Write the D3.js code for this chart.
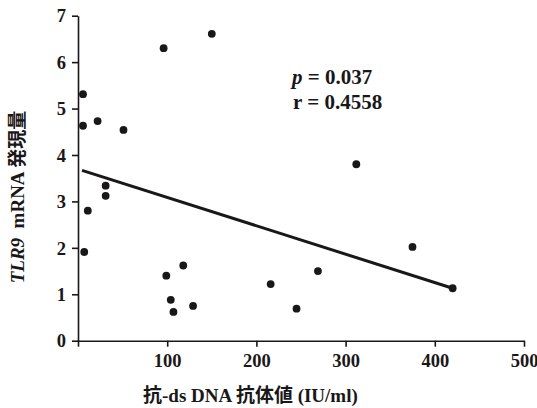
<!DOCTYPE html>
<html>
<head>
<meta charset="utf-8">
<script src="https://cdn.jsdelivr.net/npm/d3@7"></script>
<style>
  html, body { margin: 0; padding: 0; background: #fff; }
  svg { display: block; }
  text { font-family: "Liberation Serif", "Times New Roman", "Noto Sans CJK JP", serif; font-weight: bold; fill: #1a1718; }
</style>
</head>
<body>
<svg id="chart" width="537" height="408"></svg>
<script>
// anti-dsDNA antibody titre (IU/ml) and TLR9 mRNA expression per patient
const antiDsDNA = [5.6, 5.6, 22, 51, 96, 150, 31, 31, 11, 7, 99, 118, 104, 107, 129, 216, 245, 269, 312, 375, 420];
const tlr9Expr  = [5.31, 4.63, 4.73, 4.54, 6.30, 6.61, 3.34, 3.12, 2.80, 1.91, 1.40, 1.62, 0.88, 0.62, 0.75, 1.22, 0.69, 1.50, 3.80, 2.02, 1.13];

// fitted regression line endpoints
const fitX = [4.5, 420];
const fitY = [3.67, 1.13];

const xTicks = [0, 100, 200, 300, 400, 500];
const xTickLabels = ["", "100", "200", "300", "400", "500"];
const yTicks = [0, 1, 2, 3, 4, 5, 6, 7];

const W = 537, H = 408;
const margin = { left: 78, right: 13, top: 15.7, bottom: 67.3 };
const ink = "#1a1718";

const svg = d3.select("#chart");
const x = d3.scaleLinear().domain([0, 500]).range([margin.left, W - margin.right]);
const y = d3.scaleLinear().domain([0, 7]).range([H - margin.bottom, margin.top]);

// x axis
const xAxis = svg.append("g")
  .attr("transform", `translate(0,${y(0)})`)
  .call(d3.axisBottom(x).tickValues(xTicks).tickFormat((d, i) => xTickLabels[i]).tickSize(6).tickSizeOuter(0));
xAxis.select(".domain").attr("stroke", ink).attr("stroke-width", 1.6);
xAxis.selectAll(".tick line").attr("stroke", ink).attr("stroke-width", 1.6);
xAxis.selectAll(".tick text").attr("dy", "0").attr("y", 26)
  .style("font-size", "18.5px").style("font-family", "'Liberation Serif'").style("font-weight", "bold").style("fill", ink);

// y axis
const yAxis = svg.append("g")
  .attr("transform", `translate(${x(0)},0)`)
  .call(d3.axisLeft(y).tickValues(yTicks).tickFormat(d3.format("d")).tickSize(6).tickSizeOuter(0));
yAxis.select(".domain").attr("stroke", ink).attr("stroke-width", 1.6);
yAxis.selectAll(".tick line").attr("stroke", ink).attr("stroke-width", 1.6);
yAxis.selectAll(".tick text").attr("x", -12).attr("dy", "0.34em")
  .style("font-size", "18.5px").style("font-family", "'Liberation Serif'").style("font-weight", "bold").style("fill", ink);

// regression line
svg.append("line")
  .attr("x1", x(fitX[0])).attr("y1", y(fitY[0]))
  .attr("x2", x(fitX[1])).attr("y2", y(fitY[1]))
  .attr("stroke", ink).attr("stroke-width", 3);

// data points
svg.append("g").selectAll("circle")
  .data(antiDsDNA.map((v, i) => [v, tlr9Expr[i]]))
  .join("circle")
  .attr("cx", d => x(d[0]))
  .attr("cy", d => y(d[1]))
  .attr("r", 3.9)
  .attr("fill", ink);

// statistics annotation
const stats = svg.append("g").attr("font-size", 21);
const pLine = stats.append("text").attr("x", 292).attr("y", 84);
pLine.append("tspan").attr("font-style", "italic").text("p");
pLine.append("tspan").text(" = 0.037");
stats.append("text").attr("x", 293).attr("y", 109).text("r = 0.4558");

// axis titles
svg.append("text")
  .attr("x", 143).attr("y", 402)
  .attr("font-size", 19)
  .text("抗-ds DNA 抗体値 (IU/ml)");

const yTitle = svg.append("text")
  .attr("transform", `translate(24,197) rotate(-90)`)
  .attr("text-anchor", "middle")
  .attr("font-size", 19);
yTitle.append("tspan").attr("font-style", "italic").text("TLR9");
yTitle.append("tspan").attr("xml:space", "preserve").text("  mRNA 発現量");
</script>
</body>
</html>
